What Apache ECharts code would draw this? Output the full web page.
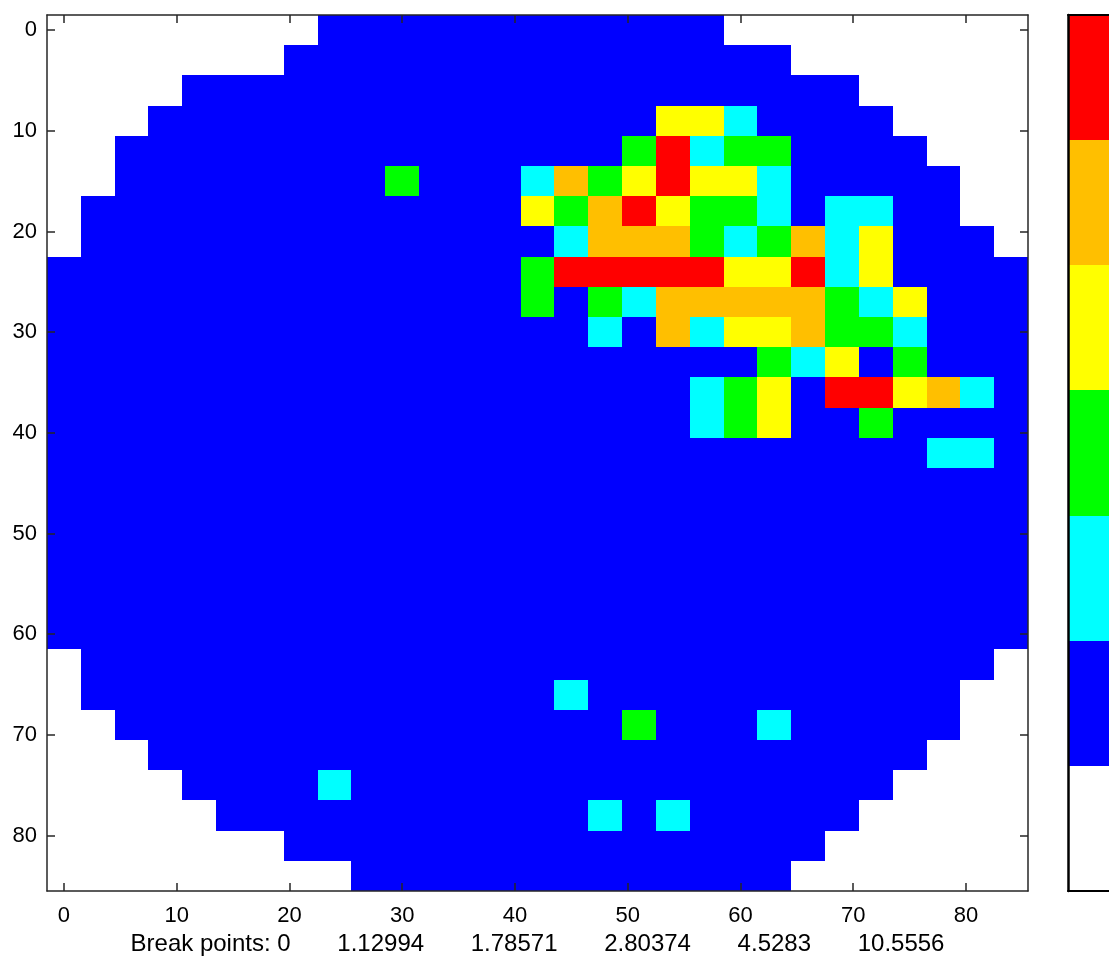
<!DOCTYPE html>
<html>
<head>
<meta charset="utf-8">
<script src="https://cdn.jsdelivr.net/npm/echarts@6/dist/echarts.min.js"></script>
<style>
html,body{margin:0;padding:0;background:#fff;}
#chart{width:1109px;height:958px;}
</style>
</head>
<body>
<div id="chart"></div>
<script>
// ---------- data ----------
// column / row centre coordinates of the wafer cells
const colCenters = [0,3,6,9,12,15,18,21,24,27,30,33,36,39,42,45,48,51,54,57,60,63,66,69,72,75,78,81,84];
const rowCenters = [0,3,6,9,12,15,18,21,24,27,30,33,36,39,42,45,48,51,54,57,60,63,66,69,72,75,78,81,84];

// class of each cell: '.' = no die, B blue, C cyan, G green, Y yellow, O orange, R red
const waferRows = [
  "........BBBBBBBBBBBB.........",
  ".......BBBBBBBBBBBBBBB.......",
  "....BBBBBBBBBBBBBBBBBBBB.....",
  "...BBBBBBBBBBBBBBBYYCBBBB....",
  "..BBBBBBBBBBBBBBBGRCGGBBBB...",
  "..BBBBBBBBGBBBCOGYRYYCBBBBB..",
  ".BBBBBBBBBBBBBYGORYGGCBCCBB..",
  ".BBBBBBBBBBBBBBCOOOGCGOCYBBB.",
  "BBBBBBBBBBBBBBGRRRRRYYRCYBBBB",
  "BBBBBBBBBBBBBBGBGCOOOOOGCYBBB",
  "BBBBBBBBBBBBBBBBCBOCYYOGGCBBB",
  "BBBBBBBBBBBBBBBBBBBBBGCYBGBBB",
  "BBBBBBBBBBBBBBBBBBBCGYBRRYOCB",
  "BBBBBBBBBBBBBBBBBBBCGYBBGBBBB",
  "BBBBBBBBBBBBBBBBBBBBBBBBBBCCB",
  "BBBBBBBBBBBBBBBBBBBBBBBBBBBBB",
  "BBBBBBBBBBBBBBBBBBBBBBBBBBBBB",
  "BBBBBBBBBBBBBBBBBBBBBBBBBBBBB",
  "BBBBBBBBBBBBBBBBBBBBBBBBBBBBB",
  "BBBBBBBBBBBBBBBBBBBBBBBBBBBBB",
  "BBBBBBBBBBBBBBBBBBBBBBBBBBBBB",
  ".BBBBBBBBBBBBBBBBBBBBBBBBBBB.",
  ".BBBBBBBBBBBBBBCBBBBBBBBBBB..",
  "..BBBBBBBBBBBBBBBGBBBCBBBBB..",
  "...BBBBBBBBBBBBBBBBBBBBBBB...",
  "....BBBBCBBBBBBBBBBBBBBBB....",
  ".....BBBBBBBBBBBCBCBBBBB.....",
  ".......BBBBBBBBBBBBBBBB......",
  ".........BBBBBBBBBBBBB......."
];
const classCodes = ".BCGYOR";            // index = class level (0 = no die)
const breakPoints = [0, 1.12994, 1.78571, 2.80374, 4.5283, 10.5556];
const colorbarLevels = [0, 1, 2, 3, 4, 5, 6];  // bottom to top
const xTicks = [0,10,20,30,40,50,60,70,80];
const yTicks = [0,10,20,30,40,50,60,70,80];

// ---------- styles ----------
const classColors = ['#FFFFFF','#0000FF','#00FFFF','#00FF00','#FFFF00','#FFBF00','#FF0000'];
const cellSize = 3;
const FONT = '"Liberation Sans", Arial, Helvetica, sans-serif';
const AXIS_COLOR = '#262626';

// ---------- build ----------
const cellData = [];
waferRows.forEach((row, r) => {
  for (let c = 0; c < row.length; c++) {
    const lvl = classCodes.indexOf(row[c]);
    if (lvl > 0) cellData.push([colCenters[c], rowCenters[r], lvl]);
  }
});
const barData = colorbarLevels.map(l => [0.5, l + 0.5, l]);

function rectItem(api, halfW, halfH) {
  const x = api.value(0), y = api.value(1);
  const p1 = api.coord([x - halfW, y - halfH]);
  const p2 = api.coord([x + halfW, y + halfH]);
  const x0 = Math.round(Math.min(p1[0], p2[0])), x1 = Math.round(Math.max(p1[0], p2[0]));
  const y0 = Math.round(Math.min(p1[1], p2[1])), y1 = Math.round(Math.max(p1[1], p2[1]));
  return {
    type: 'rect',
    shape: { x: x0, y: y0, width: x1 - x0, height: y1 - y0 },
    style: { fill: classColors[api.value(2)], stroke: null }
  };
}

const xLabel = 'Break points: ' + breakPoints.join('       ');

const lineStyle = { color: AXIS_COLOR, width: 1.5 };
const plotMin = -1.5, plotMax = 85.5;

const option = {
  animation: false,
  backgroundColor: '#fff',
  grid: [
    { left: 47, top: 15, width: 981, height: 876, containLabel: false, outerBoundsMode: 'none' },
    { left: 1068, top: 15, width: 120, height: 876, containLabel: false, outerBoundsMode: 'none' }
  ],
  xAxis: [
    {
      gridIndex: 0, type: 'value', position: 'bottom', min: plotMin, max: plotMax, z: 10,
      axisLine: { show: true, onZero: false, lineStyle },
      axisTick: { show: true, inside: true, length: 8, customValues: xTicks, lineStyle },
      axisLabel: { show: true, customValues: xTicks, color: '#000', fontSize: 22, fontFamily: FONT, margin: 14 },
      splitLine: { show: false },
      name: xLabel, nameLocation: 'middle', nameGap: 37,
      nameTextStyle: { color: '#000', fontSize: 24, fontFamily: FONT }
    },
    {
      gridIndex: 0, type: 'value', position: 'top', min: plotMin, max: plotMax, z: 10,
      axisLine: { show: true, onZero: false, lineStyle },
      axisTick: { show: true, inside: true, length: 8, customValues: xTicks, lineStyle },
      axisLabel: { show: false },
      splitLine: { show: false }
    },
    {
      gridIndex: 1, type: 'value', position: 'bottom', min: 0, max: 1, z: 10,
      axisLine: { show: true, onZero: false, lineStyle: { color: '#000', width: 2 } },
      axisTick: { show: false }, axisLabel: { show: false }, splitLine: { show: false }
    },
    {
      gridIndex: 1, type: 'value', position: 'top', min: 0, max: 1, z: 10,
      axisLine: { show: true, onZero: false, lineStyle: { color: '#000', width: 2 } },
      axisTick: { show: false }, axisLabel: { show: false }, splitLine: { show: false }
    }
  ],
  yAxis: [
    {
      gridIndex: 0, type: 'value', position: 'left', inverse: true, min: plotMin, max: plotMax, z: 10,
      axisLine: { show: true, onZero: false, lineStyle },
      axisTick: { show: true, inside: true, length: 8, customValues: yTicks, lineStyle },
      axisLabel: { show: true, customValues: yTicks, color: '#000', fontSize: 22, fontFamily: FONT, margin: 10 },
      splitLine: { show: false }
    },
    {
      gridIndex: 0, type: 'value', position: 'right', inverse: true, min: plotMin, max: plotMax, z: 10,
      axisLine: { show: true, onZero: false, lineStyle },
      axisTick: { show: true, inside: true, length: 8, customValues: yTicks, lineStyle },
      axisLabel: { show: false },
      splitLine: { show: false }
    },
    {
      gridIndex: 1, type: 'value', position: 'left', min: 0, max: colorbarLevels.length, z: 10,
      axisLine: { show: true, onZero: false, lineStyle: { color: '#000', width: 2.5 } },
      axisTick: { show: false }, axisLabel: { show: false }, splitLine: { show: false }
    }
  ],
  series: [
    {
      type: 'custom', xAxisIndex: 0, yAxisIndex: 0,
      renderItem: (params, api) => rectItem(api, cellSize / 2, cellSize / 2),
      encode: { x: 0, y: 1 },
      data: cellData, silent: true
    },
    {
      type: 'custom', xAxisIndex: 2, yAxisIndex: 2,
      renderItem: (params, api) => rectItem(api, 0.5, 0.5),
      encode: { x: 0, y: 1 },
      data: barData, silent: true
    }
  ]
};

const chart = echarts.init(document.getElementById('chart'), null, { renderer: 'canvas' });
chart.setOption(option);
</script>
</body>
</html>
